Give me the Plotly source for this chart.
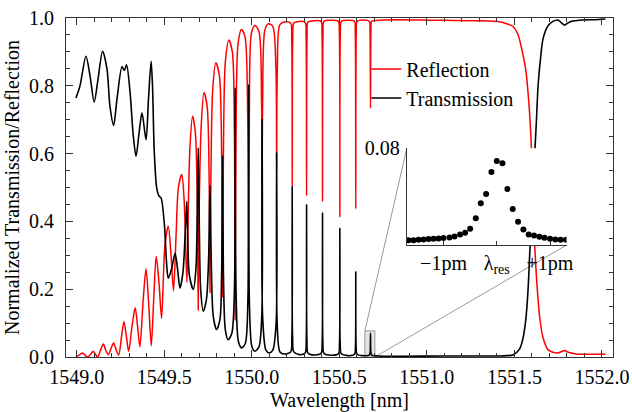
import plotly.graph_objects as go

# ---------------- data ----------------
trans_wl = [1548.996, 1549.019, 1549.053, 1549.076, 1549.100, 1549.122, 1549.148, 1549.173, 1549.190, 1549.211,
            1549.230, 1549.259, 1549.272, 1549.285, 1549.305, 1549.322, 1549.339, 1549.356, 1549.373, 1549.396,
            1549.410, 1549.425, 1549.433, 1549.443, 1549.457, 1549.470, 1549.482, 1549.501, 1549.513, 1549.523,
            1549.542, 1549.562, 1549.576, 1549.590, 1549.607, 1549.622, 1549.629, 1549.635, 1549.644, 1549.666,
            1549.681, 1549.688, 1549.694, 1549.700, 1549.708, 1549.723, 1549.741, 1549.754, 1549.761, 1549.768,
            1549.780, 1549.799, 1549.818, 1549.828, 1549.833, 1549.838, 1549.849, 1549.865, 1549.886, 1549.901,
            1549.905, 1549.910, 1549.924, 1549.942, 1549.963, 1549.978, 1549.982, 1549.986, 1550.001, 1550.018,
            1550.041, 1550.057, 1550.059, 1550.062, 1550.081, 1550.100, 1550.120, 1550.139, 1550.142, 1550.145,
            1550.161, 1550.186, 1550.222, 1550.229, 1550.231, 1550.233, 1550.240, 1550.272, 1550.305, 1550.311,
            1550.313, 1550.315, 1550.321, 1550.358, 1550.396, 1550.402, 1550.404, 1550.406, 1550.412, 1550.453,
            1550.495, 1550.501, 1550.503, 1550.505, 1550.511, 1550.549, 1550.587, 1550.592, 1550.594, 1550.596,
            1550.601, 1550.636, 1550.672, 1550.676, 1550.678, 1550.680, 1550.684, 1550.720, 1551.100, 1551.416,
            1551.456, 1551.492, 1551.530, 1551.549, 1551.565, 1551.578, 1551.587, 1551.597, 1551.606, 1551.616,
            1551.626, 1551.635, 1551.649, 1551.664, 1551.692, 1551.720, 1551.749, 1551.770, 1551.787, 1551.804,
            1551.825, 1551.892, 1551.958, 1552.020]
trans_val = [0.764, 0.800, 0.887, 0.830, 0.752, 0.820, 0.902, 0.850, 0.740, 0.683,
             0.760, 0.857, 0.845, 0.862, 0.780, 0.660, 0.592, 0.660, 0.720, 0.641,
             0.760, 0.872, 0.800, 0.607, 0.499, 0.475, 0.469, 0.390, 0.280, 0.232,
             0.260, 0.306, 0.260, 0.203, 0.250, 0.390, 0.459, 0.330, 0.240, 0.199,
             0.260, 0.400, 0.617, 0.400, 0.200, 0.135, 0.170, 0.300, 0.504, 0.300,
             0.120, 0.081, 0.110, 0.250, 0.592, 0.250, 0.080, 0.051, 0.070, 0.200,
             0.794, 0.200, 0.045, 0.027, 0.040, 0.170, 0.803, 0.170, 0.030, 0.017,
             0.030, 0.120, 0.700, 0.120, 0.020, 0.012, 0.020, 0.100, 0.602, 0.100,
             0.015, 0.009, 0.015, 0.060, 0.503, 0.060, 0.015, 0.007, 0.012, 0.050,
             0.449, 0.050, 0.012, 0.006, 0.011, 0.045, 0.425, 0.045, 0.011, 0.005,
             0.010, 0.040, 0.380, 0.040, 0.010, 0.004, 0.008, 0.030, 0.251, 0.030,
             0.008, 0.004, 0.006, 0.015, 0.070, 0.015, 0.006, 0.003, 0.003, 0.003,
             0.004, 0.006, 0.024, 0.055, 0.110, 0.200, 0.300, 0.400, 0.480, 0.600,
             0.700, 0.800, 0.880, 0.940, 0.977, 0.990, 0.994, 0.985, 0.979, 0.985,
             0.990, 0.994, 0.995, 0.997]

refl_wl = [1548.996, 1549.016, 1549.034, 1549.048, 1549.063, 1549.080, 1549.095, 1549.108, 1549.120, 1549.136,
           1549.152, 1549.166, 1549.180, 1549.196, 1549.211, 1549.226, 1549.240, 1549.256, 1549.270, 1549.284,
           1549.297, 1549.316, 1549.334, 1549.348, 1549.361, 1549.380, 1549.396, 1549.412, 1549.426, 1549.440,
           1549.454, 1549.470, 1549.485, 1549.504, 1549.523, 1549.539, 1549.553, 1549.567, 1549.581, 1549.600,
           1549.613, 1549.624, 1549.630, 1549.638, 1549.647, 1549.662, 1549.678, 1549.689, 1549.694, 1549.700,
           1549.711, 1549.727, 1549.745, 1549.756, 1549.761, 1549.767, 1549.777, 1549.795, 1549.815, 1549.828,
           1549.833, 1549.838, 1549.849, 1549.869, 1549.889, 1549.901, 1549.905, 1549.910, 1549.921, 1549.941,
           1549.961, 1549.977, 1549.982, 1549.986, 1549.998, 1550.018, 1550.041, 1550.056, 1550.059, 1550.062,
           1550.075, 1550.095, 1550.120, 1550.138, 1550.142, 1550.146, 1550.160, 1550.186, 1550.222, 1550.228,
           1550.231, 1550.234, 1550.240, 1550.272, 1550.305, 1550.310, 1550.313, 1550.316, 1550.321, 1550.358,
           1550.396, 1550.401, 1550.404, 1550.407, 1550.412, 1550.453, 1550.495, 1550.500, 1550.503, 1550.506,
           1550.511, 1550.549, 1550.587, 1550.591, 1550.594, 1550.597, 1550.601, 1550.636, 1550.672, 1550.675,
           1550.678, 1550.681, 1550.684, 1550.750, 1551.100, 1551.300, 1551.416, 1551.456, 1551.492, 1551.520,
           1551.541, 1551.564, 1551.581, 1551.595, 1551.606, 1551.616, 1551.629, 1551.645, 1551.664, 1551.692,
           1551.720, 1551.749, 1551.770, 1551.787, 1551.804, 1551.853, 1551.929, 1552.020]
refl_val = [0.000, 0.006, 0.012, 0.005, 0.000, 0.008, 0.017, 0.007, 0.000, 0.020,
            0.038, 0.020, 0.007, 0.025, 0.041, 0.020, 0.006, 0.060, 0.105, 0.060,
            0.017, 0.090, 0.145, 0.090, 0.030, 0.170, 0.260, 0.150, 0.033, 0.170,
            0.297, 0.220, 0.114, 0.330, 0.386, 0.300, 0.195, 0.350, 0.500, 0.538,
            0.470, 0.300, 0.220, 0.450, 0.620, 0.710, 0.660, 0.450, 0.139, 0.450,
            0.680, 0.780, 0.740, 0.550, 0.190, 0.550, 0.790, 0.868, 0.830, 0.600,
            0.177, 0.600, 0.870, 0.935, 0.900, 0.650, 0.109, 0.650, 0.920, 0.966,
            0.945, 0.700, 0.153, 0.700, 0.955, 0.978, 0.960, 0.750, 0.500, 0.750,
            0.965, 0.983, 0.975, 0.850, 0.550, 0.850, 0.980, 0.988, 0.985, 0.940,
            0.503, 0.940, 0.985, 0.990, 0.987, 0.950, 0.476, 0.950, 0.988, 0.992,
            0.990, 0.955, 0.459, 0.955, 0.990, 0.993, 0.990, 0.960, 0.413, 0.960,
            0.990, 0.993, 0.990, 0.960, 0.437, 0.960, 0.990, 0.994, 0.990, 0.970,
            0.734, 0.970, 0.990, 0.994, 0.993, 0.992, 0.989, 0.983, 0.975, 0.952,
            0.910, 0.850, 0.760, 0.640, 0.470, 0.330, 0.212, 0.115, 0.056, 0.021,
            0.014, 0.012, 0.016, 0.019, 0.015, 0.009, 0.008, 0.008]

# zoomed resonance (inset): detuning in pm, transmission
inset_offset_pm = [-1.656, -1.563, -1.469, -1.375, -1.281, -1.188, -1.094, -1.000, -0.888, -0.794,
                   -0.688, -0.594, -0.500, -0.394, -0.300, -0.200, -0.100, 0.000, 0.106, 0.200,
                   0.300, 0.400, 0.500, 0.600, 0.700, 0.800, 0.894, 1.000, 1.100, 1.200, 1.300]
inset_val = [0.0041, 0.0041, 0.0044, 0.0047, 0.0050, 0.0052, 0.0055, 0.0058, 0.0063, 0.0072,
             0.0088, 0.0102, 0.0135, 0.0221, 0.0345, 0.0422, 0.0604, 0.0695, 0.0676, 0.0463,
             0.0298, 0.0193, 0.0130, 0.0088, 0.0080, 0.0069, 0.0061, 0.0052, 0.0047, 0.0044, 0.0044]

x_ticks = [1549.0, 1549.5, 1550.0, 1550.5, 1551.0, 1551.5, 1552.0]
y_ticks = [0.0, 0.2, 0.4, 0.6, 0.8, 1.0]
inset_xticks = [-1, 0, 1]
inset_xlabels = ["\u22121pm", "\u03bb<sub>res</sub>", "+1pm"]

# ---------------- layout constants ----------------
X_RANGE = [1548.939, 1552.063]
Y_RANGE = [0.0, 1.0]
INSET_XDOM = [0.623, 0.915]
INSET_YDOM = [0.330, 0.616]
INSET_XRANGE = [-1.69, 1.31]
INSET_YRANGE = [0.0, 0.08]
BOX_X = [1550.646, 1550.703]
BOX_TOP = 0.077

FONT = "Liberation Serif"
AX = "#333333"


def to_paper_x(v):
    return (v - X_RANGE[0]) / (X_RANGE[1] - X_RANGE[0])


def to_paper_y(v):
    return (v - Y_RANGE[0]) / (Y_RANGE[1] - Y_RANGE[0])


fig = go.Figure()
fig.add_trace(go.Scatter(x=refl_wl, y=refl_val, mode="lines", name="Reflection",
                         line=dict(color="#ff0000", width=1.5, shape="spline", smoothing=0.8)))
fig.add_trace(go.Scatter(x=trans_wl, y=trans_val, mode="lines", name="Transmission",
                         line=dict(color="#000000", width=1.6, shape="spline", smoothing=0.8)))
fig.add_trace(go.Scatter(x=inset_offset_pm, y=inset_val, mode="markers", showlegend=False,
                         marker=dict(color="black", size=6), xaxis="x2", yaxis="y2"))

shapes = [
    dict(type="rect", xref="x", yref="y", x0=BOX_X[0], x1=BOX_X[1], y0=0, y1=BOX_TOP,
         fillcolor="#e6e6e6", line=dict(color="#999999", width=1), layer="below"),
    dict(type="line", xref="paper", yref="paper",
         x0=to_paper_x(BOX_X[0]), y0=to_paper_y(BOX_TOP), x1=INSET_XDOM[0], y1=INSET_YDOM[1],
         line=dict(color="#999999", width=1), layer="below"),
    dict(type="line", xref="paper", yref="paper",
         x0=to_paper_x(BOX_X[1]), y0=to_paper_y(0), x1=INSET_XDOM[1], y1=INSET_YDOM[0],
         line=dict(color="#999999", width=1), layer="below"),
]

fig.update_layout(
    width=632, height=412,
    margin=dict(l=66, r=19, t=18, b=55),
    paper_bgcolor="white", plot_bgcolor="white",
    font=dict(family=FONT, size=20, color="black"),
    showlegend=True,
    legend=dict(x=0.549, y=0.907, xanchor="left", yanchor="top", bgcolor="rgba(0,0,0,0)",
                font=dict(family=FONT, size=20, color="black"), tracegroupgap=0),
    shapes=shapes,
    xaxis=dict(range=X_RANGE, tickvals=x_ticks, ticktext=[f"{v:.1f}" for v in x_ticks],
               ticks="inside", ticklen=7, tickcolor=AX, showline=True, linecolor=AX, linewidth=1,
               mirror="ticks", showgrid=False, zeroline=False, ticklabelstandoff=2, automargin=False,
               minor=dict(dtick=0.1, tick0=1549.0, ticks="inside", ticklen=4, tickcolor=AX, showgrid=False),
               title=dict(text="Wavelength [nm]", standoff=12, font=dict(size=20))),
    yaxis=dict(range=Y_RANGE, tickvals=y_ticks, ticktext=[f"{v:.1f}" for v in y_ticks],
               ticks="inside", ticklen=7, tickcolor=AX, showline=True, linecolor=AX, linewidth=1,
               mirror="ticks", showgrid=False, zeroline=False, ticklabelstandoff=7, automargin=False,
               minor=dict(dtick=0.05, tick0=0, ticks="inside", ticklen=4, tickcolor=AX, showgrid=False),
               title=dict(text="Normalized Transmission/Reflection", standoff=4, font=dict(size=20))),
    xaxis2=dict(domain=INSET_XDOM, anchor="y2", range=INSET_XRANGE, tickvals=inset_xticks,
                ticktext=inset_xlabels, ticks="inside", ticklen=4, tickcolor=AX, showline=True,
                linecolor=AX, linewidth=1, showgrid=False, zeroline=False, ticklabelstandoff=0,
                automargin=False),
    yaxis2=dict(domain=INSET_YDOM, anchor="x2", range=INSET_YRANGE, tickvals=[0.08],
                ticktext=["0.08"], ticks="inside", ticklen=4, tickcolor=AX, showline=True,
                linecolor=AX, linewidth=1, showgrid=False, zeroline=False, ticklabelstandoff=2,
                automargin=False),
)

fig.write_html("out.html", config={"responsive": False, "displayModeBar": False},
               post_script="document.body.style.margin='0px';document.body.style.overflow='hidden';")
